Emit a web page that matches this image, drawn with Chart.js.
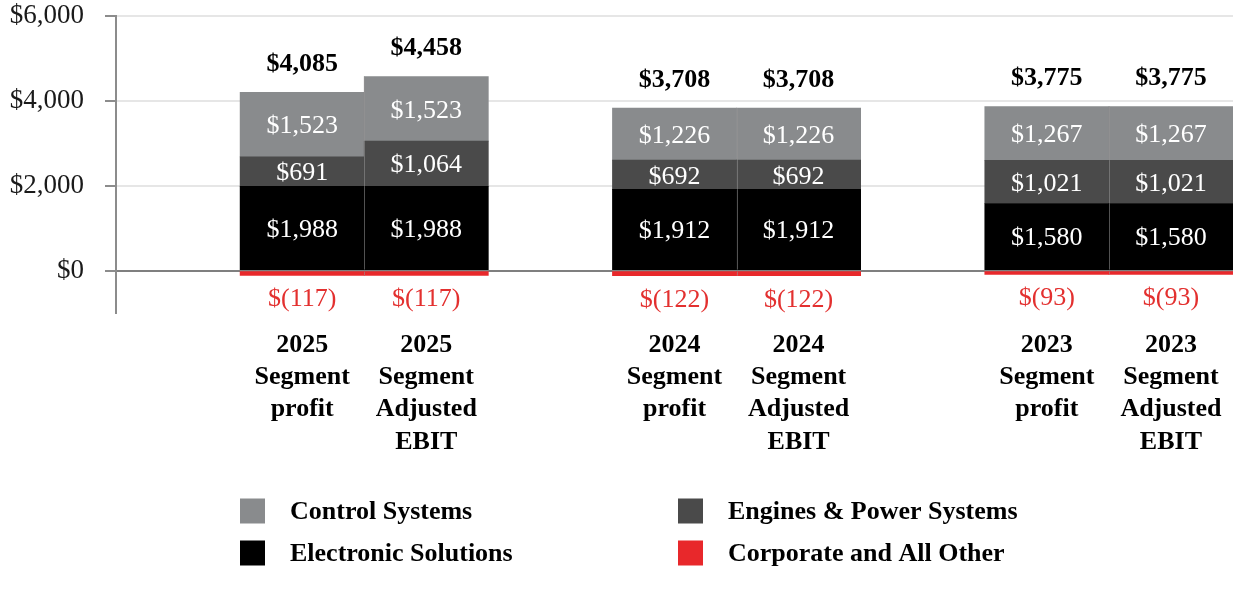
<!DOCTYPE html>
<html>
<head>
<meta charset="utf-8">
<script src="https://cdn.jsdelivr.net/npm/chart.js@4.4.1/dist/chart.umd.min.js"></script>
<style>
html,body{margin:0;padding:0;background:#fff;}
#wrap{width:1248px;height:600px;position:relative;}
</style>
</head>
<body>
<div id="wrap"><canvas id="c" width="1248" height="600"></canvas></div>
<script>
// ---- data ----
const categories = [
  ['2025','Segment','profit'],
  ['2025','Segment','Adjusted','EBIT'],
  ['2024','Segment','profit'],
  ['2024','Segment','Adjusted','EBIT'],
  ['2023','Segment','profit'],
  ['2023','Segment','Adjusted','EBIT']
];
const electronicSolutions = [1988, 1988, 1912, 1912, 1580, 1580];
const enginesPowerSystems = [691, 1064, 692, 692, 1021, 1021];
const controlSystems      = [1523, 1523, 1226, 1226, 1267, 1267];
const corporateAllOther   = [-117, -117, -122, -122, -93, -93];
const yTickValues = [0, 2000, 4000, 6000];
const yMin = -1000, yMax = 6000;

const seriesNames = ['Electronic Solutions','Engines & Power Systems','Control Systems','Corporate and All Other'];
const seriesColors = ['#000000','#4a4a4a','#898b8d','#e8282b'];
const legendOrder = [2, 1, 0, 3]; // Control, Engines / Electronic, Corporate

// spaced layout: an empty slot before each year pair
function spaced(arr){
  const out = [];
  arr.forEach((v,i)=>{ if(i%2===0) out.push(null); out.push(v); });
  return out;
}
const labels = spaced(categories).map(v => v === null ? '' : v);

const SERIF = '"Liberation Serif","Times New Roman",serif';
const fmt = v => v < 0 ? '$(' + Math.abs(v).toLocaleString('en-US') + ')' : '$' + v.toLocaleString('en-US');

const allSeries = [electronicSolutions, enginesPowerSystems, controlSystems, corporateAllOther];

const labelPlugin = {
  id: 'barLabels',
  afterDatasetsDraw(chart){
    const ctx = chart.ctx;
    ctx.save();
    // thin separator at the left edge of the second bar of each pair
    chart.data.datasets.forEach((ds, di) => {
      const meta = chart.getDatasetMeta(di);
      meta.data.forEach((el, i) => {
        if (ds.data[i] === null || i % 3 !== 2) return;
        const left = el.x - el.width / 2;
        ctx.fillStyle = 'rgba(150,150,150,0.55)';
        ctx.fillRect(Math.round(left), Math.min(el.y, el.base), 1, Math.abs(el.base - el.y));
      });
    });
    ctx.textAlign = 'center';
    ctx.textBaseline = 'middle';
    chart.data.datasets.forEach((ds, di) => {
      const meta = chart.getDatasetMeta(di);
      meta.data.forEach((el, i) => {
        const v = ds.data[i];
        if (v === null || v === undefined) return;
        if (v < 0) {
          ctx.fillStyle = '#e3302f';
          ctx.font = '26px ' + SERIF;
          ctx.fillText(fmt(v), el.x, Math.max(el.y, el.base) + 24);
        } else {
          ctx.fillStyle = '#ffffff';
          ctx.font = '26px ' + SERIF;
          ctx.fillText(fmt(v), el.x, (el.y + el.base) / 2 + 2);
        }
      });
    });
    // totals
    const topMeta = chart.getDatasetMeta(2);
    topMeta.data.forEach((el, i) => {
      const vals = chart.data.datasets.map(ds => ds.data[i]);
      if (vals[0] === null) return;
      const total = vals.reduce((a, b) => a + b, 0);
      ctx.fillStyle = '#000000';
      ctx.font = 'bold 26px ' + SERIF;
      ctx.fillText(fmt(total), el.x, el.y - 28);
    });
    ctx.restore();
  }
};

const legendPlugin = {
  id: 'gridLegend',
  afterDraw(chart){
    const ctx = chart.ctx;
    ctx.save();
    const colX = [240, 678];
    const rowY = [511, 553];
    ctx.font = 'bold 26px ' + SERIF;
    ctx.textAlign = 'left';
    ctx.textBaseline = 'middle';
    legendOrder.forEach((di, k) => {
      const ds = chart.data.datasets[di];
      const x = colX[k % 2], y = rowY[Math.floor(k / 2)];
      ctx.fillStyle = ds.backgroundColor;
      ctx.fillRect(x, y - 12.5, 25, 25);
      ctx.fillStyle = '#000000';
      ctx.fillText(ds.label, x + 50, y + 1);
    });
    ctx.restore();
  }
};

new Chart(document.getElementById('c'), {
  type: 'bar',
  data: {
    labels: labels,
    datasets: allSeries.map((s, i) => ({
      label: seriesNames[i],
      data: spaced(s),
      backgroundColor: seriesColors[i],
      borderWidth: 0,
      categoryPercentage: 1.0,
      barPercentage: 1.0,
      stack: 's'
    }))
  },
  options: {
    responsive: false,
    animation: false,
    layout: { padding: { top: 16, right: 15, left: 0, bottom: 0 } },
    plugins: { legend: { display: false }, tooltip: { enabled: false } },
    scales: {
      x: {
        stacked: true,
        grid: { display: false },
        border: { display: false },
        ticks: {
          autoSkip: false, maxRotation: 0, minRotation: 0,
          padding: 8,
          color: '#000000',
          font: { family: SERIF, size: 26, weight: 'bold', lineHeight: 32.3/26 }
        },
        afterFit(scale){ scale.height = 287; scale.paddingLeft = 0; scale.paddingRight = 0; }
      },
      y: {
        stacked: true,
        min: yMin, max: yMax,
        afterBuildTicks(scale){ scale.ticks = yTickValues.map(v => ({ value: v })); },
        grid: {
          color: c => (c.tick && c.tick.value === 0) ? '#7f7f7f' : '#e6e6e6',
          lineWidth: 2,
          tickLength: 11,
          tickColor: '#8c8c8c',
          drawTicks: true
        },
        border: { display: true, color: '#8c8c8c', width: 2 },
        ticks: {
          padding: 21,
          color: '#1a1a1a',
          font: { family: SERIF, size: 27 },
          callback: v => fmt(v)
        },
        afterFit(scale){ scale.width = 116; scale.paddingTop = 0; scale.paddingBottom = 0; }
      }
    }
  },
  plugins: [labelPlugin, legendPlugin]
});
</script>
</body>
</html>
